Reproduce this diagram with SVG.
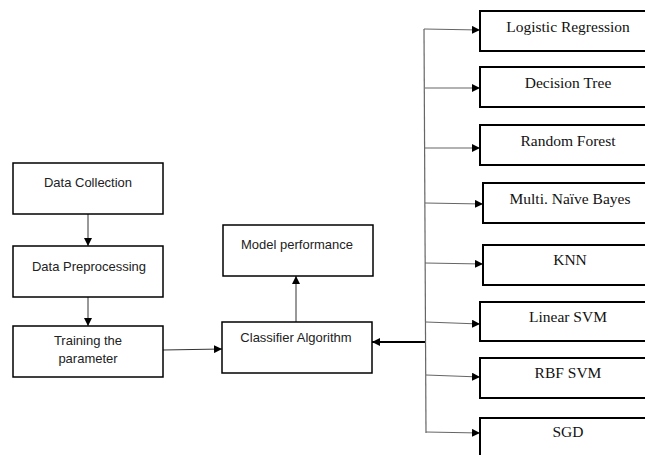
<svg xmlns="http://www.w3.org/2000/svg" width="645" height="455" viewBox="0 0 645 455">
<style>
.box{fill:#fff;stroke:#000;stroke-width:1.5}
.rbox{fill:#fff;stroke:#000;stroke-width:2}
.sans{font-family:"Liberation Sans",Arial,sans-serif;font-size:13px;fill:#222;text-anchor:middle}
.serif{font-family:"Liberation Serif","Times New Roman",serif;font-size:15.5px;fill:#111;text-anchor:middle}
.ln{stroke:#333;stroke-width:1;fill:none}
.br{stroke:#666;stroke-width:1.2;fill:none}
</style>
<defs>
<marker id="ah" viewBox="0 0 8 8" refX="8" refY="4" markerWidth="8" markerHeight="8" markerUnits="userSpaceOnUse" orient="auto">
<path d="M0,0 L8,4 L0,8 z" fill="#000"/>
</marker>
</defs>
<rect width="645" height="455" fill="#fff"/>
<g id="connectors">
<line class="ln" x1="88" y1="214" x2="88" y2="246" marker-end="url(#ah)"/>
<line class="ln" x1="88" y1="297" x2="88" y2="326" marker-end="url(#ah)"/>
<line class="ln" x1="163" y1="350" x2="222" y2="349" marker-end="url(#ah)"/>
<line class="ln" x1="296" y1="322" x2="296" y2="276" marker-end="url(#ah)"/>
<line x1="426" y1="342" x2="372" y2="342" stroke="#000" stroke-width="2" marker-end="url(#ah)"/>
<line class="br" x1="424" y1="29" x2="426" y2="433"/>
<line class="br" x1="424" y1="29" x2="480" y2="30" marker-end="url(#ah)"/>
<line class="br" x1="425" y1="88" x2="480" y2="88" marker-end="url(#ah)"/>
<line class="br" x1="425" y1="148" x2="480" y2="148" marker-end="url(#ah)"/>
<line class="br" x1="425" y1="203" x2="483" y2="204" marker-end="url(#ah)"/>
<line class="br" x1="425" y1="263" x2="483" y2="264" marker-end="url(#ah)"/>
<line class="br" x1="426" y1="322" x2="480" y2="324" marker-end="url(#ah)"/>
<line class="br" x1="426" y1="375" x2="480" y2="377" marker-end="url(#ah)"/>
<line class="br" x1="426" y1="432" x2="480" y2="433" marker-end="url(#ah)"/>
</g>
<g id="data-collection"><rect class="box" x="13" y="163" width="150" height="51"/><text class="sans" x="88" y="187">Data Collection</text></g>
<g id="data-preprocessing"><rect class="box" x="13" y="246" width="150" height="51"/><text class="sans" x="89" y="271">Data Preprocessing</text></g>
<g id="training"><rect class="box" x="13" y="326" width="150" height="51"/><text class="sans" x="88" y="345">Training the</text><text class="sans" x="88" y="363">parameter</text></g>
<g id="model-performance"><rect class="box" x="223" y="225" width="150" height="51"/><text class="sans" x="297" y="249">Model performance</text></g>
<g id="classifier"><rect class="box" x="222" y="322" width="150" height="51"/><text class="sans" x="296" y="342">Classifier Algorithm</text></g>
<g id="logistic-regression"><rect class="rbox" x="480" y="11" width="180" height="40"/><text class="serif" x="568" y="32">Logistic Regression</text></g>
<g id="decision-tree"><rect class="rbox" x="480" y="67" width="180" height="40"/><text class="serif" x="568" y="88">Decision Tree</text></g>
<g id="random-forest"><rect class="rbox" x="480" y="125" width="180" height="40"/><text class="serif" x="568" y="146">Random Forest</text></g>
<g id="naive-bayes"><rect class="rbox" x="483" y="183" width="180" height="40"/><text class="serif" x="570" y="204">Multi. Naïve Bayes</text></g>
<g id="knn"><rect class="rbox" x="483" y="245" width="180" height="40"/><text class="serif" x="570" y="265">KNN</text></g>
<g id="linear-svm"><rect class="rbox" x="480" y="302" width="180" height="39"/><text class="serif" x="568" y="322">Linear SVM</text></g>
<g id="rbf-svm"><rect class="rbox" x="480" y="358" width="180" height="40"/><text class="serif" x="568" y="378">RBF SVM</text></g>
<g id="sgd"><rect class="rbox" x="480" y="418" width="180" height="50"/><text class="serif" x="568" y="437">SGD</text></g>
</svg>
